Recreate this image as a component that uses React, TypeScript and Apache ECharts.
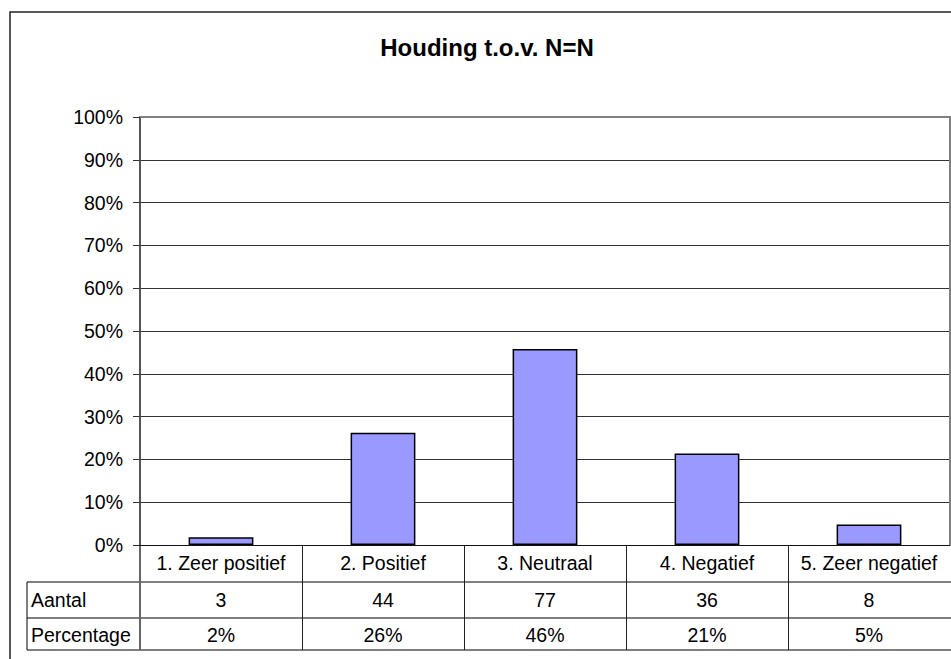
import React, { useEffect, useRef } from "react";
import * as echarts from "echarts";

const titleText = "Houding t.o.v. N=N";
const categories = ["1. Zeer positief", "2. Positief", "3. Neutraal", "4. Negatief", "5. Zeer negatief"];
const percentValues = [1.8, 26.2, 45.8, 21.4, 4.8];
const countLabels = ["3", "44", "77", "36", "8"];
const percentLabels = ["2%", "26%", "46%", "21%", "5%"];
const rowNames = ["Aantal", "Percentage"];

const W = 951;
const H = 659;
const FONT = '"Liberation Sans", Arial, sans-serif';
const PLOT_LEFT = 140;
const PLOT_RIGHT = 950;
const PLOT_TOP = 117;
const PLOT_BOTTOM = 545;
const ROW_LINES = [582, 618, 650];
const ROW_CENTERS = [600, 635];
const TABLE_LEFT = 27;

export default function App() {
  const ref = useRef<HTMLDivElement>(null);
  useEffect(() => {
    if (!ref.current) return;
    const chart = echarts.init(ref.current, null, { renderer: "svg" });
    const colW = (PLOT_RIGHT - PLOT_LEFT) / categories.length;
    const graphics: any[] = [];
    graphics.push({
      type: "rect",
      shape: { x: 10, y: 12, width: 960, height: 700 },
      style: { fill: "none", stroke: "#222", lineWidth: 1.5 },
      silent: true,
    });
    graphics.push({
      type: "text",
      x: 487,
      y: 47,
      style: {
        text: titleText,
        fontFamily: FONT,
        fontSize: 24,
        fontWeight: "bold",
        fill: "#000",
        textAlign: "center",
        textVerticalAlign: "middle",
      },
    });
    // plot area border top/right (gray)
    graphics.push({
      type: "polyline",
      shape: { points: [[PLOT_LEFT, PLOT_TOP], [PLOT_RIGHT, PLOT_TOP], [PLOT_RIGHT, PLOT_BOTTOM]] },
      style: { fill: "none", stroke: "#808080", lineWidth: 2 },
      z: 5,
    });
    ROW_LINES.forEach((y) => {
      graphics.push({
        type: "line",
        shape: { x1: TABLE_LEFT, y1: y, x2: W, y2: y },
        style: { stroke: "#000", lineWidth: 1 },
      });
    });
    graphics.push({
      type: "line",
      shape: { x1: TABLE_LEFT, y1: ROW_LINES[0], x2: TABLE_LEFT, y2: ROW_LINES[2] },
      style: { stroke: "#000", lineWidth: 1 },
    });
    graphics.push({
      type: "line",
      shape: { x1: PLOT_LEFT, y1: PLOT_BOTTOM, x2: PLOT_LEFT, y2: ROW_LINES[2] },
      style: { stroke: "#666", lineWidth: 2 },
    });
    for (let i = 1; i < categories.length; i++) {
      const x = Math.round(PLOT_LEFT + colW * i) + 0.5;
      graphics.push({
        type: "line",
        shape: { x1: x, y1: PLOT_BOTTOM, x2: x, y2: ROW_LINES[2] },
        style: { stroke: "#222", lineWidth: 1 },
      });
    }
    rowNames.forEach((name, r) => {
      graphics.push({
        type: "text",
        x: TABLE_LEFT + 4,
        y: ROW_CENTERS[r],
        style: {
          text: name,
          fontFamily: FONT,
          fontSize: 19.5,
          fill: "#000",
          textAlign: "left",
          textVerticalAlign: "middle",
        },
      });
    });
    [countLabels, percentLabels].forEach((row, r) => {
      row.forEach((t, i) => {
        graphics.push({
          type: "text",
          x: PLOT_LEFT + colW * (i + 0.5),
          y: ROW_CENTERS[r],
          style: {
            text: t,
            fontFamily: FONT,
            fontSize: 19.5,
            fill: "#000",
            textAlign: "center",
            textVerticalAlign: "middle",
          },
        });
      });
    });

    chart.setOption({
      animation: false,
      backgroundColor: "#fff",
      grid: {
        left: PLOT_LEFT,
        right: W - PLOT_RIGHT,
        top: PLOT_TOP,
        bottom: H - PLOT_BOTTOM,
        containLabel: false,
      },
      xAxis: {
        type: "category",
        data: categories,
        axisLine: { show: true, lineStyle: { color: "#111", width: 1 } },
        axisTick: { show: false },
        axisLabel: {
          fontFamily: FONT,
          fontSize: 19.5,
          color: "#000",
          margin: 8,
          interval: 0,
        },
        z: 3,
      },
      yAxis: {
        type: "value",
        min: 0,
        max: 100,
        interval: 10,
        axisLine: { show: true, lineStyle: { color: "#555", width: 2 } },
        axisTick: { show: true, length: 7, lineStyle: { color: "#333", width: 1 } },
        axisLabel: {
          formatter: "{value}%",
          fontFamily: FONT,
          fontSize: 19.5,
          color: "#000",
          margin: 17,
        },
        splitLine: { show: true, lineStyle: { color: "#333", width: 1 } },
      },
      series: [
        {
          type: "bar",
          data: percentValues,
          barWidth: "40%",
          itemStyle: { color: "#9999FF", borderColor: "#000", borderWidth: 1.5 },
        },
      ],
      graphic: graphics,
    });
    return () => chart.dispose();
  }, []);
  return (
    <div
      ref={ref}
      style={{ position: "fixed", left: 0, top: 0, width: W, height: H, background: "#fff" }}
    />
  );
}
